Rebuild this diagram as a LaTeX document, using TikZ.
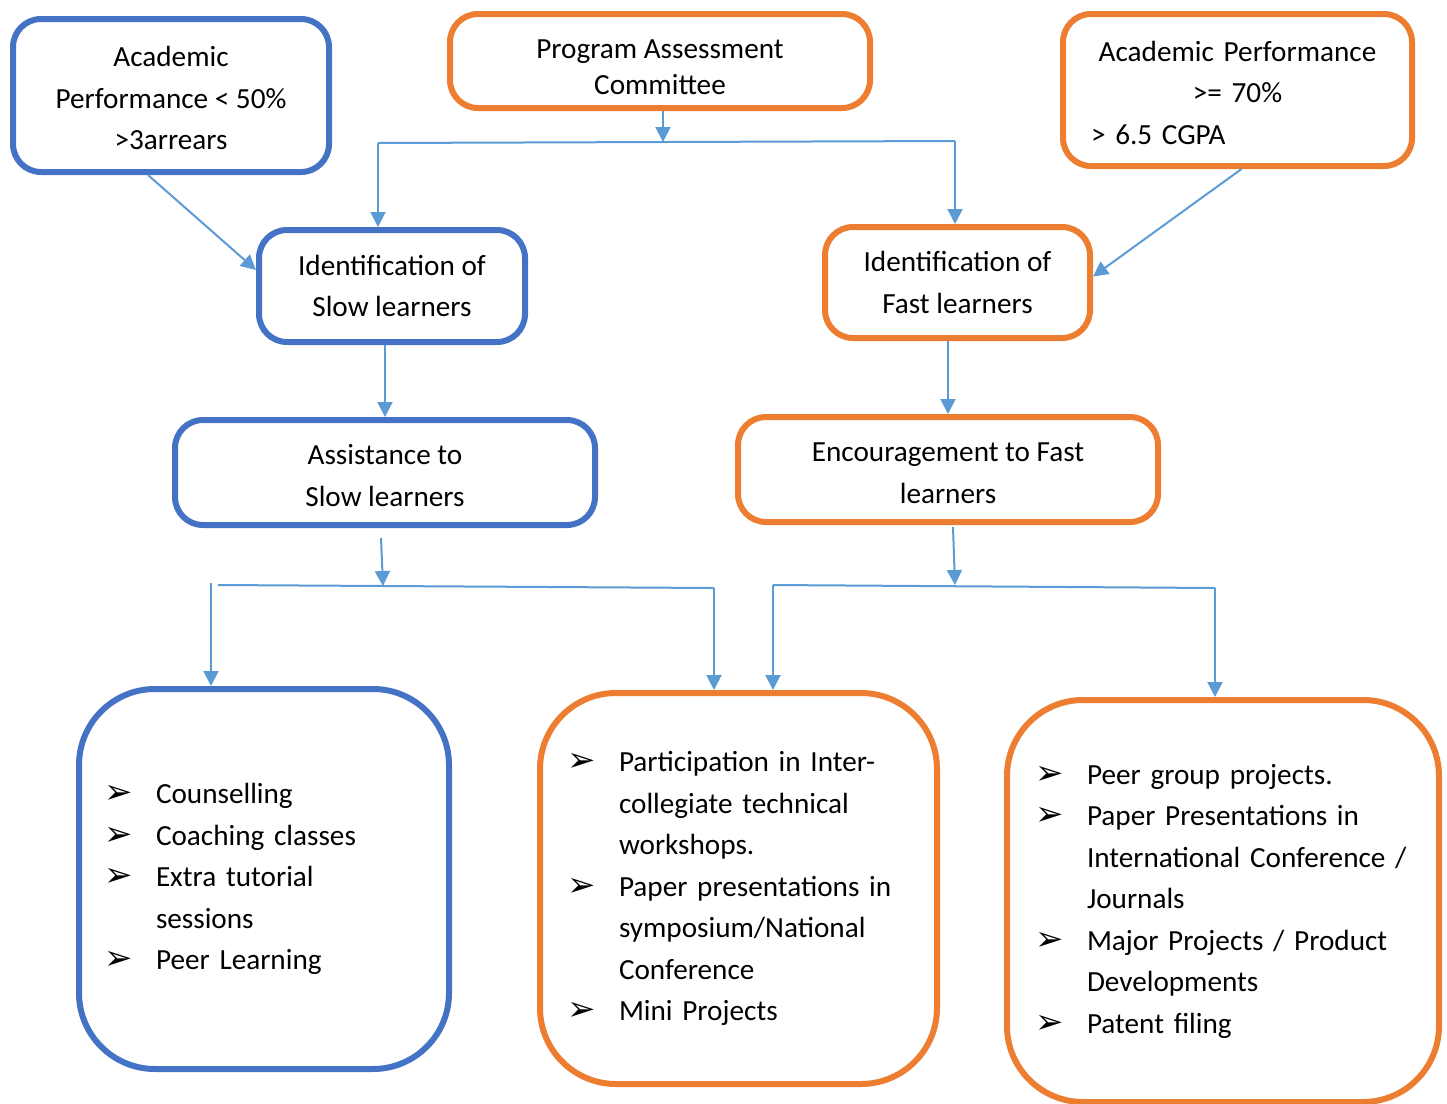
\documentclass[tikz,border=0pt]{standalone}
\usepackage{fontspec}
\setmainfont{Carlito}
\newfontfamily\dejavu{DejaVu Sans}
\usetikzlibrary{arrows.meta}

\definecolor{boxblue}{HTML}{4472C4}
\definecolor{boxorange}{HTML}{ED7D31}
\definecolor{linkblue}{HTML}{5B9BD5}

\newcommand{\bul}{\hspace*{-2pt}\makebox[26pt][l]{\dejavu\fontsize{17}{17}\selectfont ➢}}
\newcommand{\itm}[1]{\bul#1}
\newcommand{\cnt}[1]{\hspace*{24pt}#1}

\tikzset{
  box/.style={draw,line width=3pt,rounded corners=14pt,inner sep=0pt,align=center,
    font=\fontsize{14.6}{20.75}\selectfont},
  slowbox/.style={box,draw=boxblue},
  fastbox/.style={box,draw=boxorange},
  listbox/.style={rounded corners=38pt,align=left},
  conn/.style={draw=linkblue,line width=1pt},
  link/.style={conn,-{Triangle[width=7.5pt,length=7.5pt]}}
}

\begin{document}
\begin{tikzpicture}[x=0.5pt,y=-0.5pt]
\useasboundingbox (0,0) rectangle (1447,1104);

% Criteria and committee
\node[slowbox,minimum width=158pt,minimum height=76.5pt] (lowacad) at (171,95.5)
  {\rule{0pt}{13pt}Academic\\Performance < 50\%\\>3arrears};
\node[fastbox,minimum width=210pt,minimum height=47pt,
  font=\fontsize{14.6}{18}\selectfont] (pac) at (660,61) {\rule{0pt}{16pt}Program Assessment\\Committee};
\node[fastbox,text width=146.5pt,inner xsep=14pt,minimum height=76pt,align=left] (highacad) at (1237.5,90)
  {\centering\rule{0pt}{13pt}Academic Performance\\>= 70\%\par\raggedright > 6.5 CGPA};

% Identification
\node[slowbox,minimum width=133pt,minimum height=56pt] (slowid) at (392,286)
  {Identification of\\Slow learners};
\node[fastbox,minimum width=132.5pt,minimum height=55.5pt] (fastid) at (957.5,282.5)
  {Identification of\\Fast learners};

% Assistance and encouragement
\node[slowbox,minimum width=210pt,minimum height=52.5pt] (assist) at (385,472.5)
  {\rule{0pt}{13pt}Assistance to\\Slow learners};
\node[fastbox,minimum width=210pt,minimum height=52.5pt] (encour) at (948,469.5)
  {\rule{0pt}{13pt}Encouragement to Fast\\learners};

% Activity lists
\node[slowbox,listbox,text width=156pt,inner xsep=14.5pt,minimum height=190pt] (slowlist) at (264,879)
  {\itm{Counselling}\\\itm{Coaching classes}\\\itm{Extra tutorial}\\\cnt{sessions}\\\itm{Peer Learning}};
\node[fastbox,listbox,text width=167.5pt,inner xsep=15.5pt,minimum height=195.5pt] (midlist) at (738.5,888.5)
  {\itm{Participation in Inter-}\\\cnt{collegiate technical}\\\cnt{workshops.}\\
   \itm{Paper presentations in}\\\cnt{symposium/National}\\\cnt{Conference}\\\itm{Mini Projects}};
\node[fastbox,listbox,text width=184pt,inner xsep=16pt,minimum height=201pt] (fastlist) at (1223,901)
  {\itm{Peer group projects.}\\\itm{Paper Presentations in}\\\cnt{International Conference /}\\
   \cnt{Journals}\\\itm{Major Projects / Product}\\\cnt{Developments}\\\itm{Patent filing}};

% Split points
\coordinate (topsplit) at (663,142);
\coordinate (topL) at (378,143);
\coordinate (topR) at (955,141);
\coordinate (slowsplit) at (383,586);
\coordinate (slowL) at (218,585);
\coordinate (slowR) at (714,588);
\coordinate (slowfar) at (211,583);
\coordinate (fastsplit) at (955,585);
\coordinate (fastL) at (773,585);
\coordinate (fastR) at (1215,588);

% Connectors
\draw[link] (topsplit |- pac.south) -- (topsplit);
\draw[conn] (topL) -- (topR);
\draw[link] (topL) -- (topL |- slowid.north);
\draw[link] (topR) -- (topR |- fastid.north);
\draw[link] ([xshift=-11.5pt]lowacad.south) -- ([yshift=8pt]slowid.west);
\draw[link] ([xshift=2pt]highacad.south) -- ([yshift=3pt]fastid.east);
\draw[link] (assist.north |- slowid.south) -- (assist.north);
\draw[link] (encour.north |- fastid.south) -- (encour.north);

\draw[link] ([yshift=-5pt,xshift=-2pt]assist.south) -- (slowsplit);
\draw[conn] (slowL) -- (slowR);
\draw[link] (slowfar) -- (slowfar |- slowlist.north);
\draw[link] (slowR) -- (slowR |- midlist.north);
\draw[link] ([yshift=-1pt,xshift=2.5pt]encour.south) -- (fastsplit);
\draw[conn] (fastL) -- (fastR);
\draw[link] (fastL) -- (fastL |- midlist.north);
\draw[link] (fastR) -- (fastR |- fastlist.north);
\end{tikzpicture}
\end{document}
